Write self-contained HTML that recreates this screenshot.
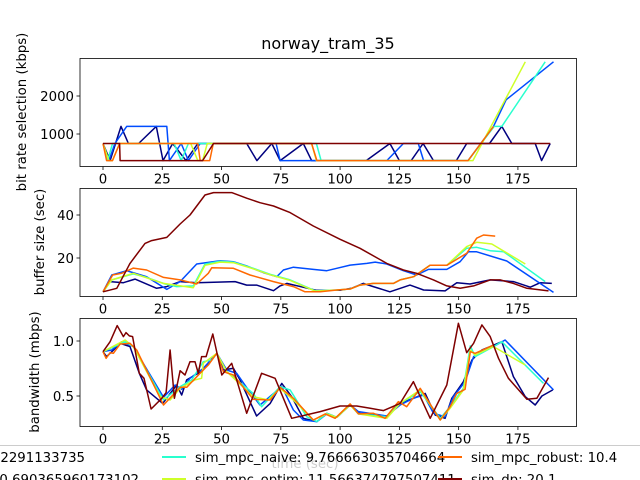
<!DOCTYPE html>
<html><head><meta charset="utf-8"><style>
html,body{margin:0;background:#fff;overflow:hidden;width:640px;height:480px}
svg{display:block;font-family:"DejaVu Sans","Liberation Sans",sans-serif;overflow:hidden}
</style></head><body>
<svg id="c" width="640" height="480" viewBox="0 0 640 480" xmlns="http://www.w3.org/2000/svg">
<rect width="640" height="480" fill="#fff"/>
<text x="328" y="49" font-size="16" text-anchor="middle">norway_tram_35</text>
<text transform="translate(26,112) rotate(-90)" font-size="13.3" text-anchor="middle">bit rate selection (kbps)</text>
<text transform="translate(44,242) rotate(-90)" font-size="13.3" text-anchor="middle">buffer size (sec)</text>
<text transform="translate(39,372) rotate(-90)" font-size="13.3" text-anchor="middle">bandwidth (mbps)</text>
<g id="plots"></g>
<text x="305" y="468" font-size="13.3" text-anchor="middle">time (sec)</text>
<rect x="0" y="445" width="640" height="35" fill="#fff" fill-opacity="0.8"/>
<line x1="0" x2="640" y1="445.5" y2="445.5" stroke="#ccc"/>
<g id="legend"></g>
</svg>
<script>
const colors=['#00007f','#004cff','#29ffce','#ceff29','#ff6800','#7f0000'];
const tickX=[0,25,50,75,100,125,150,175];
// bitrate panel
const brT=[
[0,3,7.6,10.7,15,22.5,25.3,29.4,35,40,60.6,64.9,71.2,74.7,84.5,88,111,121,125,130,135,139.4,149,153.4,163,168.2,172.4,182.3,185,188.6],
[0,2.5,5,10,15,26.9,28,33,36,41,73,74.7,119.7,126.7,133,135.2,154,164.7,170,190],
[0,2,4,7,30,33,36,41,90,92,154,165,168.2,186.5],
[0,2.5,4,7,37,40,42,44,88,90,156,178.1],
[0,1.5,4,7,40,41,45,46.5,88,90.2,154,164.7],
[0,7,7.2,42,46.6,188.6]];
const brV=[
[750,300,1200,750,750,1200,300,750,300,750,750,300,750,300,750,300,300,750,300,300,750,300,300,750,750,1200,750,750,300,750],
[750,300,750,1200,1200,1200,300,750,300,750,750,300,300,750,750,300,300,1200,1900,2900],
[750,300,750,750,750,300,750,750,750,300,300,1200,1200,2900],
[750,300,300,750,750,300,300,750,750,300,300,2900],
[750,300,300,750,750,300,300,750,750,300,300,1200],
[750,750,300,300,750,750]];
// buffer panel
const bufT=[
[0,3,8.6,13.5,22.6,26.9,32.5,39.5,55.7,60.6,64.8,71.9,74.7,77.5,90,100,105,109.8,114,121,129.5,135.2,144.3,149.2,154.8,163.3,173.1,180.2,184.4,189.3],
[0,3.7,10,18.4,26.9,32.5,39.5,49.4,55,60.6,67.6,73.3,76.1,80.3,88.7,94.4,98.6,104.2,111.3,114.8,119.7,126.7,132.3,137.2,145,150.6,154.1,157.6,170.3,190],
[0,3.7,12.8,18.4,26.2,31.1,38.1,43,49.4,55,63.4,70.5,78.9,89.4,98.6,104.2,108.4,114,122.5,125.3,131,137.9,145,153.4,157.6,163.3,169,186.5],
[0,3.7,12.8,25.5,38.1,43,49.4,55,63.4,70.5,78.9,89.4,98.6,104.2,108.4,114,122.5,125.3,131,137.9,145,153.4,157.6,164,178.1],
[0,4.1,7.9,12.8,18.4,25.5,32.5,39.5,44.4,45.9,55,62,71.9,80.3,85.2,91.6,98.6,104.2,108.4,114,122.5,125.3,131,137.9,145,153.4,157.6,160.5,165.4],
[0,5.8,11.4,17.7,20.5,26.9,32.5,36.7,43,46.6,54.3,60.6,66.2,71.9,78.9,88.7,100,108.4,119.7,126.7,132.3,139.4,145,150.6,156.3,163.3,167.5,173.1,178.8,187.9]];
const bufV=[
[4.3,9,8.5,10.2,5.9,6.7,9,8.5,9,7.4,7.4,4.8,7,8.2,5,5,6,8.2,6.7,4.3,7.4,5.1,4.7,8.5,7.9,9.8,9,6.4,8.5,8.2],
[4.3,12.1,14.1,11.3,5.4,9,17.2,18.7,18.3,16.3,13.2,11.3,14.4,15.7,14.7,14.1,15.2,16.7,17.5,18.1,17.2,14.1,12.1,14.7,14.7,18.3,22.9,22.9,18.6,4],
[4.3,9.8,12.6,11,7.9,6.7,7,17.2,18.5,18.1,15.2,12.4,9.8,4.8,5.1,5.6,7.4,8.2,8.2,9.8,11.3,16.6,16.6,24.5,25,23.4,22.9,9],
[4.3,9.8,12.9,8.2,6.2,16.6,18.1,17.8,15,12.2,9.6,4.6,5.1,5.6,7.4,8.2,8.2,9.8,11.3,16.6,16.6,25.3,27.3,26.5,17.2],
[4.3,12.1,12.9,15.3,14.4,11,9.8,7.9,12.9,15.5,15.2,12.1,9,6.7,4.3,4.3,5.1,5.6,7.4,8.2,8.2,9.8,11.3,16.6,16.6,22.2,29.2,30.7,30.2],
[4.3,5.9,17.5,26.8,28.1,29.6,35.8,40,49.3,50.4,50.4,47.8,45.7,44.2,41.1,34.9,28.7,24.5,17.5,14.4,12.9,9.8,7,5.9,7,9.8,9.8,8.2,5.9,4.7]];
// bandwidth panel
const bwT=[
[0,1.5,3.7,7.2,11.4,15.3,18.4,25.2,31.1,33.2,35.3,38.8,41.6,48,50.8,55,57.8,64.8,70.5,75.4,79.6,84.5,90.2,94.4,98.6,104.2,107.7,114.1,119.7,125.3,130.9,135.9,140.1,144.3,147.1,152,155.6,159.8,163.3,168.2,173.1,178.1,182.3,185.1,189.7],
[0,3.7,7.9,12.8,25.5,30.4,33.2,36.7,42.3,48,52.2,56.4,61.3,66.2,75.4,80.3,84.5,90.2,94.4,98.6,104.2,107.7,114.1,119.7,125.3,130.9,135.2,139.4,144.3,147.8,152.7,156.3,159.8,164.7,169.6,190],
[0,9.3,12.8,25.5,32.5,37.4,42.3,45.9,48,52.2,63.4,66.9,74.7,78.9,85.9,90.2,94.4,98.6,104.2,107.7,119.7,125.3,133.8,142.2,146.4,152,154.9,157,164.7,168.2,185.8],
[0,9.3,12.8,24.1,28.3,32.5,38.8,41.6,42.3,48,52.2,63.4,69.8,74.7,80.3,88.7,94.4,98.6,104.2,107.7,119.7,125.3,133.8,142.2,146.4,152,154.9,157,164.7,178.1],
[0,1.3,3,4.4,7.2,11.4,14.2,25.5,32.5,35.3,40.9,44.4,48,50.8,55,63.4,70.5,74.7,80.3,88.7,93.7,97.9,104.2,107.7,114.1,119,124.6,128.1,133.8,142.2,146.4,149.2,152.7,154.9,157,164.7],
[0,3,6,8.6,9.7,11.1,12.5,15.3,17.3,20.3,24.8,26.6,28.3,30.1,32.5,34.6,36.7,38.8,40.2,41.6,43.5,46.3,50.1,54.3,60.6,66.9,72.6,79.6,91.6,100,107,112.7,118.3,125.3,130.9,138,145,149.9,153.4,156.3,159.8,163.3,166.8,171,178.8,183,187.9]];
const bwV=[
[.903,.858,.903,.979,.949,.706,.555,.433,.6,.509,.646,.691,.721,.888,.736,.752,.646,.318,.433,.615,.494,.297,.267,.343,.306,.418,.343,.327,.318,.433,.479,.524,.327,.297,.479,.63,.827,.918,.949,.994,.676,.494,.418,.5,.555],
[.903,.918,.994,.949,.488,.6,.561,.661,.752,.888,.736,.706,.555,.418,.585,.373,.282,.267,.337,.306,.418,.358,.337,.318,.418,.479,.509,.343,.312,.494,.63,.858,.903,.949,1.009,.555],
[.903,.994,.949,.464,.585,.646,.812,.827,.888,.721,.524,.403,.585,.555,.312,.267,.343,.306,.418,.337,.312,.433,.54,.297,.403,.57,.955,.858,.949,.994,.615],
[.903,1.009,.949,.494,.464,.57,.646,.661,.797,.888,.721,.494,.464,.57,.464,.282,.337,.306,.418,.337,.297,.433,.555,.282,.388,.555,.918,.873,.949,.782],
[.903,.843,.894,.888,.973,.979,.918,.418,.579,.579,.706,.782,.888,.721,.691,.47,.464,.579,.479,.282,.337,.297,.428,.337,.343,.297,.449,.403,.57,.282,.403,.524,.561,.903,.888,.964],
[.903,.994,1.14,1.04,1.076,1.046,1.04,.706,.661,.382,.479,.531,.918,.479,.73,.691,.812,.812,.706,.858,.858,1.064,.691,.797,.343,.706,.661,.297,.358,.409,.409,.388,.367,.433,.63,.297,.6,1.161,.894,.979,1.146,1.04,.843,.661,.47,.479,.667]];
const legendLabels=['sim_bb: 9.522291133735','sim_robust_mpc_like: 10.690365960173102','sim_mpc_naive: 9.766663035704664','sim_mpc_optim: 11.566374797507411','sim_mpc_robust: 10.4','sim_dp: 20.1'];

const NS='http://www.w3.org/2000/svg';
const L=80,R=576.5;
const xs=t=>103+t*2.371;
const panels=[
 {top:58.5,bot:166.5,y:v=>134-(v-1000)*0.038,ticks:[1000,2000],fmt:v=>String(v),T:brT,V:brV,name:'bitrate'},
 {top:188.5,bot:296.5,y:v=>301-v*2.15,ticks:[20,40],fmt:v=>String(v),T:bufT,V:bufV,name:'buffer'},
 {top:318.5,bot:426.5,y:v=>341-(v-1)*110,ticks:[0.5,1.0],fmt:v=>v.toFixed(1),T:bwT,V:bwV,name:'bandwidth'}];
const plots=document.getElementById('plots');
function mk(tag,attrs,parent){const e=document.createElementNS(NS,tag);for(const k in attrs)e.setAttribute(k,attrs[k]);parent.appendChild(e);return e;}
panels.forEach((p,pi)=>{
 const g=mk('g',{},plots);
 
 
 const cp=mk('clipPath',{id:'cp'+pi},g);
 mk('rect',{x:L,y:p.top,width:R-L,height:p.bot-p.top},cp);
 const lg=mk('g',{'clip-path':'url(#cp'+pi+')'},g);
 p.T.forEach((ts,si)=>{
  const d=ts.map((t,i)=>(i?'L':'M')+xs(t).toFixed(1)+','+p.y(p.V[si][i]).toFixed(1)).join(' ');
  const path=mk('path',{d:d,fill:'none',stroke:colors[si],'stroke-width':1.5,'stroke-linejoin':'round'},lg);
  
  
 });
 const fr=mk('rect',{x:L,y:p.top,width:R-L,height:p.bot-p.top,fill:'none',stroke:'#000','stroke-width':0.8},g);
 
 
 tickX.forEach(t=>{
  const x=xs(t);
  mk('line',{x1:x,x2:x,y1:p.bot,y2:p.bot+3.5,stroke:'#000','stroke-width':0.8},g);
  const tx=mk('text',{x:x,y:p.bot+17,'font-size':13.3,'text-anchor':'middle'},g);
  tx.textContent=t;
  
  
 });
 p.ticks.forEach(v=>{
  const y=p.y(v);
  mk('line',{x1:L-3.5,x2:L,y1:y,y2:y,stroke:'#000','stroke-width':0.8},g);
  const tx=mk('text',{x:L-6,y:y+5,'font-size':13.3,'text-anchor':'end'},g);
  tx.textContent=p.fmt(v);
  
  
 });
});
const lgd=document.getElementById('legend');
const cols=[{lx:null,tx:85,anchor:'end',tx2:139},{lx:162,tx:195},{lx:438,tx:471}];
legendLabels.forEach((lab,i)=>{
 const col=Math.floor(i/2),row=i%2;
 const y=row?479:457;
 const c=cols[col];
 const g=mk('g',{},lgd);
 
 
 if(c.lx!==null){mk('line',{x1:c.lx,x2:c.lx+24,y1:y,y2:y,stroke:colors[i],'stroke-width':2},g);}
 const t=mk('text',{x:(col===0&&row===1)?c.tx2:c.tx,y:y+5,'font-size':13.3,'text-anchor':c.anchor||'start'},g);
 t.textContent=lab;
});
</script>
</body></html>
